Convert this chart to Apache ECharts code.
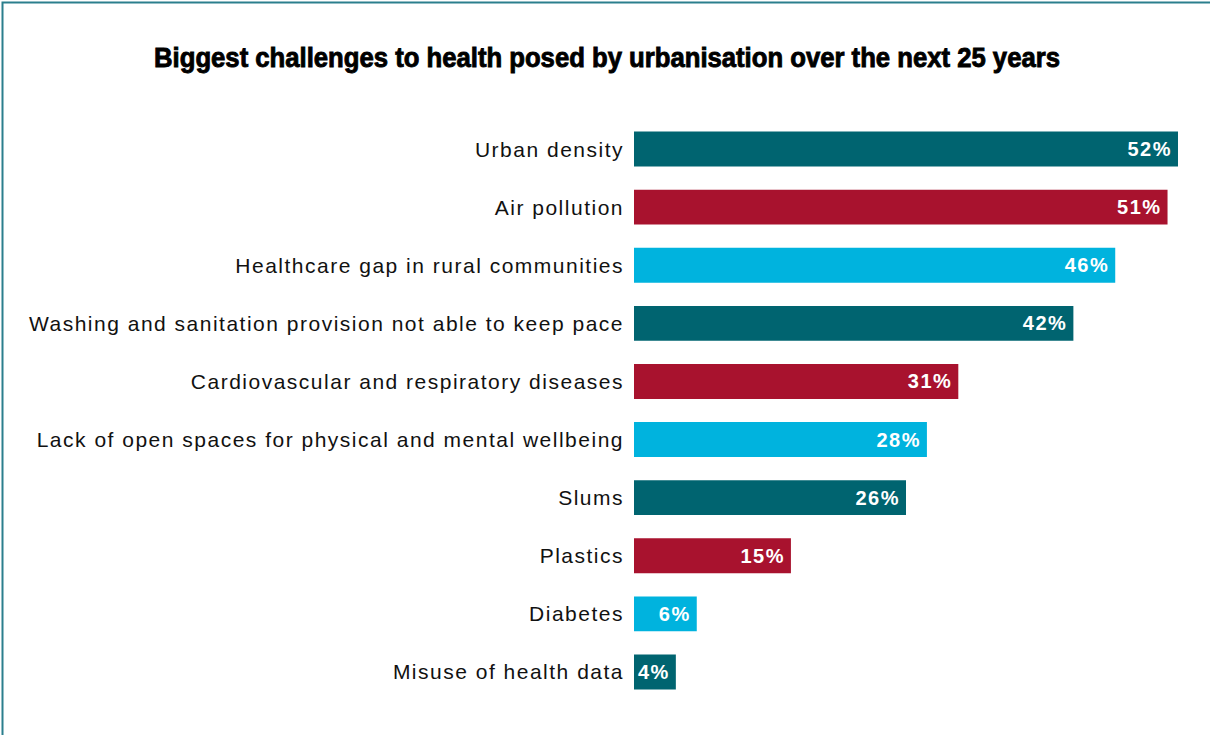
<!DOCTYPE html>
<html>
<head>
<meta charset="utf-8">
<script src="https://cdn.jsdelivr.net/npm/echarts@6/dist/echarts.min.js"></script>
<style>
  html, body { margin: 0; padding: 0; background: #ffffff; }
  #chart { width: 1210px; height: 735px; }
  /* Helvetica-style tracking on the label text */
  #chart text { letter-spacing: 1.5px; }
  #chart text.heading { letter-spacing: 0; }
</style>
</head>
<body>
<div id="chart"></div>
<script>
const titleText = 'Biggest challenges to health posed by urbanisation over the next 25 years';

const categories = [
  'Urban density',
  'Air pollution',
  'Healthcare gap in rural communities',
  'Washing and sanitation provision not able to keep pace',
  'Cardiovascular and respiratory diseases',
  'Lack of open spaces for physical and mental wellbeing',
  'Slums',
  'Plastics',
  'Diabetes',
  'Misuse of health data'
];

const shares = [52, 51, 46, 42, 31, 28, 26, 15, 6, 4];

// Bars cycle through teal, crimson and sky blue
const palette = ['#006470', '#a8122e', '#00b3de'];

const chart = echarts.init(document.getElementById('chart'), null, { renderer: 'svg' });

chart.setOption({
  animation: false,
  backgroundColor: '#ffffff',
  graphic: [
    {
      type: 'polyline',
      shape: { points: [[2.5, 735], [2.5, 2.5], [1210, 2.5]] },
      style: { stroke: '#2b7f8d', lineWidth: 2, fill: null },
      silent: true
    },
    {
      type: 'text',
      x: 607,
      y: 58,
      scaleX: 0.917,
      style: {
        text: titleText,
        fill: '#000000',
        stroke: '#000000',
        lineWidth: 0.9,
        font: 'bold 28px "Liberation Sans", Arial, sans-serif',
        textAlign: 'center',
        textVerticalAlign: 'middle'
      },
      silent: true
    }
  ],
  grid: { left: 634, right: 32, top: 120, bottom: 34 },
  xAxis: {
    type: 'value',
    min: 0,
    max: 52,
    show: false
  },
  yAxis: {
    type: 'category',
    inverse: true,
    data: categories,
    axisLine: { show: false },
    axisTick: { show: false },
    splitLine: { show: false },
    axisLabel: {
      margin: 10,
      color: '#111111',
      fontSize: 21,
      fontFamily: '"Liberation Sans", Arial, sans-serif'
    }
  },
  series: [{
    type: 'bar',
    barCategoryGap: '40%',
    data: shares.map((v, i) => ({
      value: v,
      itemStyle: { color: palette[i % palette.length] }
    })),
    label: {
      show: true,
      position: 'insideRight',
      distance: 6,
      formatter: p => p.value + '%',
      color: '#ffffff',
      fontSize: 20,
      fontWeight: 'bold',
      fontFamily: '"Liberation Sans", Arial, sans-serif'
    }
  }]
});

// The heading keeps its tight, condensed setting
document.querySelectorAll('#chart text').forEach(t => {
  if (t.textContent === titleText) t.classList.add('heading');
});
</script>
</body>
</html>
